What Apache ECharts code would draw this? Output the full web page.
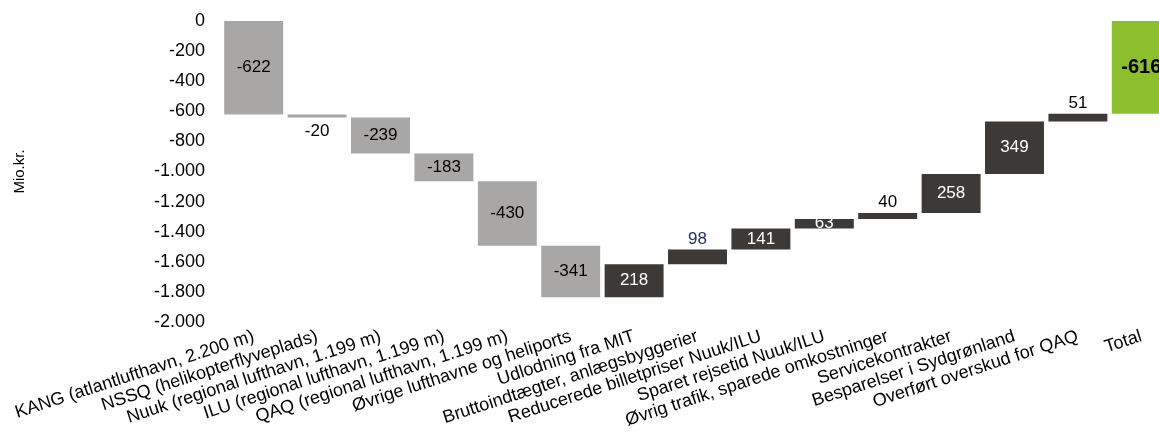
<!DOCTYPE html>
<html>
<head>
<meta charset="utf-8">
<script src="https://cdn.jsdelivr.net/npm/echarts@6/dist/echarts.min.js"></script>
<style>
  html, body { margin: 0; padding: 0; background: #fff; }
  #chart { width: 1159px; height: 435px; }
</style>
</head>
<body>
<div id="chart"></div>
<script>
// Waterfall: steps from 0 down to the total (Mio.kr.)
const categories = [
  'KANG (atlantlufthavn, 2.200 m)',
  'NSSQ (helikopterflyveplads)',
  'Nuuk (regional lufthavn, 1.199 m)',
  'ILU (regional lufthavn, 1.199 m)',
  'QAQ (regional lufthavn, 1.199 m)',
  'Øvrige lufthavne og heliports',
  'Udlodning fra MIT',
  'Bruttoindtægter, anlægsbyggerier',
  'Reducerede billetpriser Nuuk/ILU',
  'Sparet rejsetid Nuuk/ILU',
  'Øvrig trafik, sparede omkostninger',
  'Servicekontrakter',
  'Besparelser i Sydgrønland',
  'Overført overskud for QAQ',
  'Total'
];
const changes = [-622, -20, -239, -183, -430, -341, 218, 98, 141, 63, 40, 258, 349, 51];
const totalValue = -616;
const yTicks = { min: -2000, max: 0, step: 200 };

const COL_NEG = '#a9a7a5';
const COL_POS = '#3c3937';
const COL_TOTAL = '#8dbe2d';

// label placement per step: inside the bar unless the bar is too thin
const labelPlace = ['inside','below','inside','inside','inside','inside','inside','above','inside','inside','above','inside','inside','above'];
const labelColor = ['#000','#000','#000','#000','#000','#000','#fff','#1f2f5c','#fff','#fff','#000','#fff','#fff','#000'];

const base = [];
const seg = [];
let running = 0;
changes.forEach((c, i) => {
  const start = running;
  const end = running + c;
  running = end;
  base.push(Math.max(start, end));
  const place = labelPlace[i];
  seg.push({
    value: -Math.abs(c),
    itemStyle: { color: c < 0 ? COL_NEG : COL_POS },
    label: {
      show: true,
      formatter: String(c),
      color: labelColor[i],
      fontSize: 17,
      position: place === 'inside' ? 'inside' : (place === 'above' ? 'insideTop' : 'insideBottom'),
      offset: place === 'above' ? [0, -24] : (place === 'below' ? [0, 27] : [0, 0])
    }
  });
});
base.push(0);
seg.push({
  value: totalValue,
  itemStyle: { color: COL_TOTAL },
  label: { show: true, formatter: String(totalValue), color: '#000', fontSize: 20, fontWeight: 'bold', position: 'inside' }
});

const fmt = v => {
  const s = Math.abs(v).toString().replace(/\B(?=(\d{3})+(?!\d))/g, '.');
  return (v < 0 ? '-' : '') + s;
};

const chart = echarts.init(document.getElementById('chart'));
chart.setOption({
  animation: false,
  textStyle: { fontFamily: 'Liberation Sans, Arial, sans-serif' },
  grid: { left: 222, width: 951, top: 21, bottom: 113, containLabel: false, outerBoundsMode: 'none' },
  xAxis: {
    type: 'category',
    data: categories,
    axisLine: { show: false },
    axisTick: { show: false },
    axisLabel: { interval: 0, rotate: 18, margin: 14, fontSize: 18, color: '#000' }
  },
  yAxis: {
    type: 'value',
    min: yTicks.min,
    max: yTicks.max,
    interval: yTicks.step,
    name: 'Mio.kr.',
    nameLocation: 'middle',
    nameRotate: 90,
    nameGap: 195,
    nameTextStyle: { fontSize: 15, color: '#000' },
    axisLine: { show: false },
    axisTick: { show: false },
    splitLine: { show: false },
    axisLabel: { fontSize: 18, color: '#000', margin: 17, formatter: fmt }
  },
  series: [
    {
      type: 'bar',
      stack: 'wf',
      data: base,
      itemStyle: { color: 'transparent' },
      emphasis: { disabled: true },
      barCategoryGap: '7%',
      silent: true
    },
    {
      type: 'bar',
      stack: 'wf',
      data: seg,
      barCategoryGap: '7%'
    }
  ]
});
</script>
</body>
</html>
